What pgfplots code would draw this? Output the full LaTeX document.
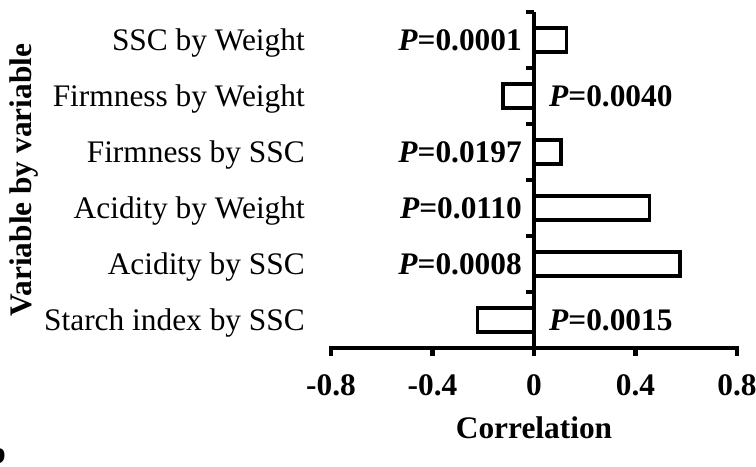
\documentclass[border=0pt]{standalone}
\usepackage{fontspec}
\setmainfont{Liberation Serif}
\usepackage{pgfplots}
\pgfplotsset{compat=1.18}
\newcommand{\fs}{\fontsize{31.5}{37}\selectfont}
\newcommand{\pv}[1]{{\bfseries\itshape P}{\bfseries =#1}}
\begin{document}
\begin{tikzpicture}
\begin{axis}[
  at={(331bp,119bp)}, anchor=south west,
  scale only axis, width=406bp, height=336bp,
  xmin=-0.8, xmax=0.8, ymin=0.5, ymax=6.5,
  axis x line*=bottom, axis y line*=left,
  y axis line style={draw=none},
  x axis line style={line width=4.5bp, line cap=rect},
  ytick={1,2,3,4,5,6},
  yticklabels={Starch index by SSC, Acidity by SSC, Acidity by Weight, Firmness by SSC, Firmness by Weight, SSC by Weight},
  ytick style={draw=none},
  xtick={-0.8,-0.4,0,0.4,0.8},
  xticklabels={-0.8,-0.4,0,0.4,0.8},
  tick align=outside, major tick length=8bp,
  xtick style={line width=4.5bp, black},
  yticklabel style={font=\fs, anchor=base east, inner sep=0pt, xshift=-18bp, yshift=-10.5bp},
  xticklabel style={font=\fs\bfseries, anchor=base, inner sep=0pt, yshift=-39bp},
  xlabel={Correlation},
  xlabel style={font=\fs\bfseries, at={(axis description cs:0.5,-0.268)}, anchor=base},
  ylabel={Variable by variable},
  ylabel style={font=\fs\bfseries, at={(axis description cs:-0.7365,0.5)}, anchor=base},
  clip=false,
]
\addplot[xbar, bar width=0.43, bar shift=0pt, fill=white, draw=black, line width=3.5bp]
  coordinates {(-0.222,1) (0.575,2) (0.456,3) (0.106,4) (-0.123,5) (0.128,6)};
\addplot[draw=none, mark=none, nodes near coords, point meta=explicit symbolic,
  every node near coord/.style={anchor=east, inner sep=0pt, xshift=-12bp, font=\fs}]
  coordinates {(0,2) [\pv{0.0008}] (0,3) [\pv{0.0110}] (0,4) [\pv{0.0197}] (0,6) [\pv{0.0001}]};
\addplot[draw=none, mark=none, nodes near coords, point meta=explicit symbolic,
  every node near coord/.style={anchor=west, inner sep=0pt, xshift=15bp, font=\fs}]
  coordinates {(0,1) [\pv{0.0015}] (0,5) [\pv{0.0040}]};
\draw[line width=4.5bp] (axis cs:0,0.5) -- (axis cs:0,6.5);
\pgfplotsinvokeforeach{1.5,2.5,3.5,4.5,5.5,6.5}{
  \draw[line width=4.5bp] (axis cs:0,#1) -- ([xshift=-8bp]axis cs:0,#1);
}
\end{axis}
\node[anchor=base east, inner sep=0pt, font=\fs\bfseries] at (6bp,4bp) {b};
\pgfresetboundingbox
\path[use as bounding box] (0,0) rectangle (756bp,467bp);
\end{tikzpicture}
\end{document}
